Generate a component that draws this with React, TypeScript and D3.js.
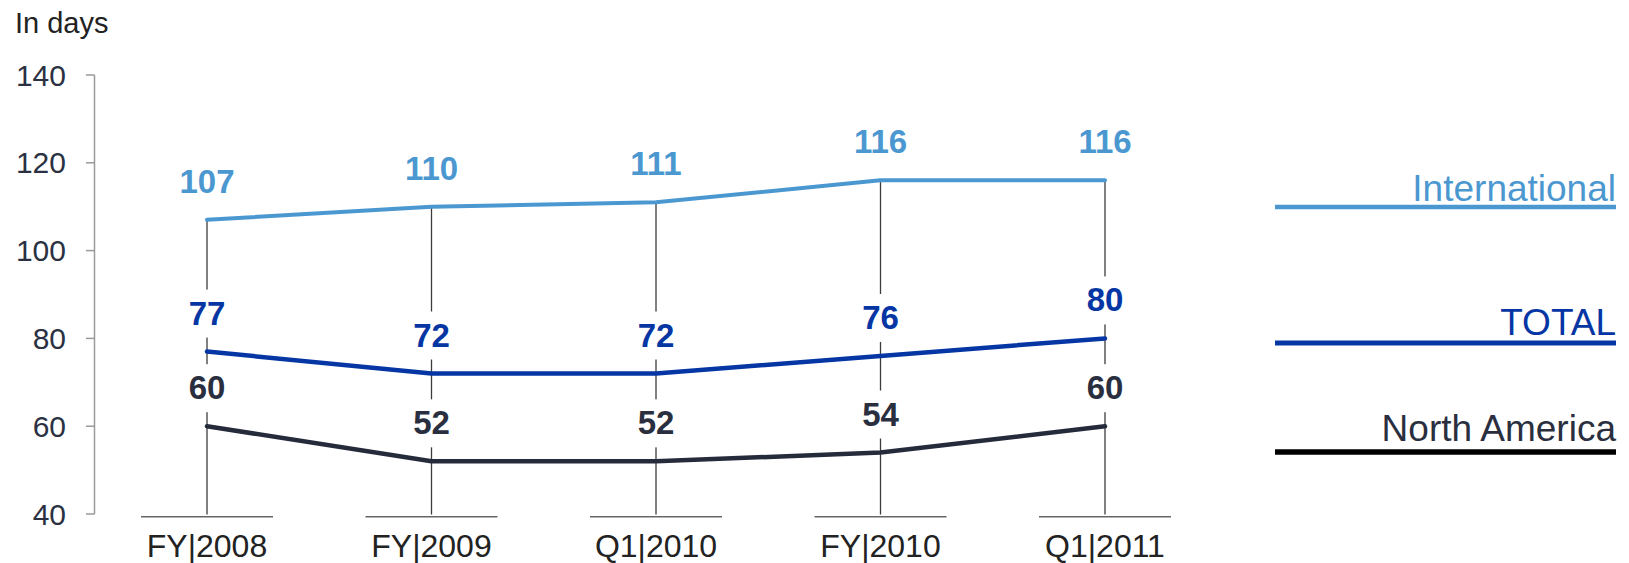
import React from "react";
import * as d3 from "d3";

const categories = ["FY|2008", "FY|2009", "Q1|2010", "FY|2010", "Q1|2011"];
const international = [107, 110, 111, 116, 116];
const total = [77, 72, 72, 76, 80];
const northAmerica = [60, 52, 52, 54, 60];
const yTicks = [40, 60, 80, 100, 120, 140];

const seriesList = [
  { name: "International", values: international, color: "#4b98d1", label: "#4b98d1", legendY: 207, textY: 201, lw: 4, legendW: 4.5 },
  { name: "TOTAL", values: total, color: "#0536a4", label: "#0536a4", legendY: 343, textY: 335, lw: 4.5, legendW: 5 },
  { name: "North America", values: northAmerica, color: "#262b3c", label: "#2a2f40", legendY: 452, textY: 441, lw: 4.5, legendW: 5.5, legendColor: "#000" },
];

const FONT = "'Liberation Sans', Arial, Helvetica, sans-serif";

export default function App() {
  const W = 1629, H = 563;
  const x = d3.scaleBand<string>().domain(categories).range([94.75, 1217.25]).padding(0);
  const cx = (c: string) => (x(c) as number) + x.bandwidth() / 2;
  const y = d3.scaleLinear().domain([40, 140]).range([514, 75]);
  const line = d3.line<number>().x((_, i) => cx(categories[i])).y((v) => y(v));

  const allTop = categories.map((_, i) => Math.max(...seriesList.map((s) => s.values[i])));

  return (
    <svg width={W} height={H} style={{ position: "absolute", left: 0, top: 0, background: "#fff" }} fontFamily={FONT}>
      <text x={15} y={33} fontSize={29} fill="#222">In days</text>
      {/* y axis */}
      <line x1={94.5} x2={94.5} y1={y(140)} y2={y(40)} stroke="#9a9a9a" strokeWidth={1.5} />
      {yTicks.map((t) => (
        <g key={t}>
          <line x1={86} x2={94.5} y1={y(t)} y2={y(t)} stroke="#9a9a9a" strokeWidth={1.5} />
          <text x={66} y={y(t) + 10.5} fontSize={30} textAnchor="end" fill="#2b3142">{t}</text>
        </g>
      ))}
      {/* category drop lines and base segments */}
      {categories.map((c, i) => (
        <g key={c}>
          <line x1={cx(c)} x2={cx(c)} y1={y(allTop[i])} y2={514.5} stroke="#3c3c3c" strokeWidth={1.3} />
          <line x1={cx(c) - 66} x2={cx(c) + 66} y1={516.7} y2={516.7} stroke="#666" strokeWidth={1.6} />
          <text x={cx(c)} y={556.5} fontSize={32} textAnchor="middle" fill="#222">{c}</text>
        </g>
      ))}
      {/* series lines */}
      {seriesList.map((s) => (
        <path key={s.name} d={line(s.values) || ""} fill="none" stroke={s.color} strokeWidth={s.lw} strokeLinecap="round" strokeLinejoin="round" />
      ))}
      {/* labels */}
      {seriesList.map((s) =>
        s.values.map((v, i) => {
          const bx = cx(categories[i]);
          const by = y(v) - 27;
          return (
            <g key={s.name + i}>
              <rect x={bx - 31} y={by - 35} width={62} height={48} fill="#fff" />
              <text x={bx} y={by} fontSize={33} fontWeight="bold" textAnchor="middle" fill={s.label}>{v}</text>
            </g>
          );
        })
      )}
      {/* legend */}
      {seriesList.map((s) => (
        <g key={"lg" + s.name}>
          <text x={1616} y={s.textY} fontSize={37} textAnchor="end" fill={s.label}>{s.name}</text>
          <line x1={1275} x2={1616} y1={s.legendY} y2={s.legendY} stroke={s.legendColor || s.color} strokeWidth={s.legendW} />
        </g>
      ))}
    </svg>
  );
}
